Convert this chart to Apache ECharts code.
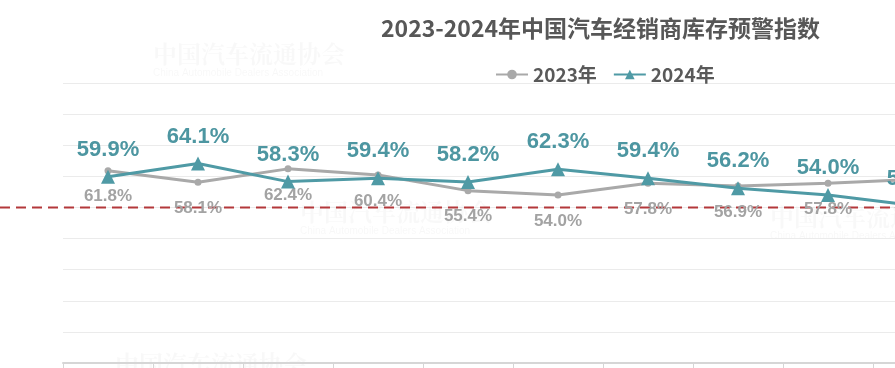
<!DOCTYPE html>
<html><head><meta charset="utf-8">
<script src="https://cdn.jsdelivr.net/npm/echarts@6/dist/echarts.min.js"></script>
<style>html,body{margin:0;padding:0;background:#fff;overflow:hidden;width:895px;height:368px}#c{width:1200px;height:368px}</style>
</head><body><div id="c"></div>
<script>
const months = ['1月','2月','3月','4月','5月','6月','7月','8月','9月','10月','11月','12月'];
const values2023 = [61.8, 58.1, 62.4, 60.4, 55.4, 54.0, 57.8, 56.9, 57.8, 59.1];
const values2024 = [59.9, 64.1, 58.3, 59.4, 58.2, 62.3, 59.4, 56.2, 54.0, 50.5];
const seriesNames = ['2023年', '2024年'];
const yMin = 0, yMax = 90, yStep = 10;
const warningLevel = 50;
const titleText = '2023-2024年中国汽车经销商库存预警指数';

const TEAL = '#4f9aa5', GRAY = '#a9a9a9';
const chart = echarts.init(document.getElementById('c'), null, {renderer: 'canvas'});
const wm = (x, y, s) => ([
  {type:'text', left:x, top:y, silent:true, z:0,
   style:{text:'中国汽车流通协会', font:'bold '+s+'px "Noto Serif CJK SC","Noto Sans CJK SC",serif', fill:'rgba(0,0,0,0.028)'}},
  {type:'text', left:x, top:y+s+2, silent:true, z:0,
   style:{text:'China Automobile Dealers Association', font:Math.round(s*0.42)+'px "Liberation Sans",sans-serif', fill:'rgba(0,0,0,0.03)'}}
]);
const marks = [].concat(wm(153, 42, 24), wm(300, 200, 24), wm(770, 205, 24), wm(115, 352, 24));
chart.setOption({
  animation: false,
  backgroundColor: '#fff',
  title: {
    text: titleText, left: 376, top: 12,
    textStyle: {fontSize: 23, fontWeight: 'bold', color: '#575757', fontFamily: '"Noto Sans CJK SC", sans-serif'}
  },
  legend: {
    left: 490, top: 60, itemWidth: 32, itemHeight: 12, itemGap: 16,
    textStyle: {fontSize: 19, fontWeight: 'bold', color: '#595959', fontFamily: '"Noto Sans CJK SC", sans-serif'},
    data: seriesNames
  },
  grid: {left: 63, top: 83, right: 57, bottom: 5, containLabel: false},
  xAxis: {
    type: 'category', data: months, boundaryGap: true,
    axisLine: {lineStyle: {color: '#d6d6d6', width: 2}},
    axisTick: {show: true, length: 5, lineStyle: {color: '#d6d6d6'}},
    axisLabel: {show: false}
  },
  yAxis: {
    type: 'value', min: yMin, max: yMax, interval: yStep,
    axisLabel: {show: false}, axisLine: {show: false}, axisTick: {show: false},
    splitLine: {lineStyle: {color: '#ebebeb', width: 1}}
  },
  series: [
    {
      name: seriesNames[0], type: 'line', data: values2023, z: 3,
      symbol: 'circle', symbolSize: 7,
      lineStyle: {color: GRAY, width: 3}, itemStyle: {color: GRAY},
      label: {show: true, position: 'bottom', distance: 14, formatter: p => p.value.toFixed(1) + '%',
        fontSize: 17, fontWeight: 'bold', color: '#a3a3a3', fontFamily: '"Liberation Sans", Arial, sans-serif'}
    },
    {
      name: seriesNames[1], type: 'line', data: values2024, z: 4,
      symbol: 'triangle', symbolSize: 14,
      lineStyle: {color: TEAL, width: 3}, itemStyle: {color: TEAL},
      label: {show: true, position: 'top', distance: 9, formatter: p => p.value.toFixed(1) + '%',
        fontSize: 22, fontWeight: 'bold', color: '#4d96a1', fontFamily: '"Liberation Sans", Arial, sans-serif'}
    }
  ],
  graphic: marks
});
const yWarn = chart.convertToPixel({yAxisIndex: 0}, warningLevel);
chart.setOption({
  graphic: marks.concat([{
    type: 'line', silent: true, z: 2,
    shape: {x1: 0, y1: yWarn, x2: 1200, y2: yWarn},
    style: {stroke: '#b3383b', lineWidth: 2, lineDash: [10, 6]}
  }])
});
</script>
</body></html>
